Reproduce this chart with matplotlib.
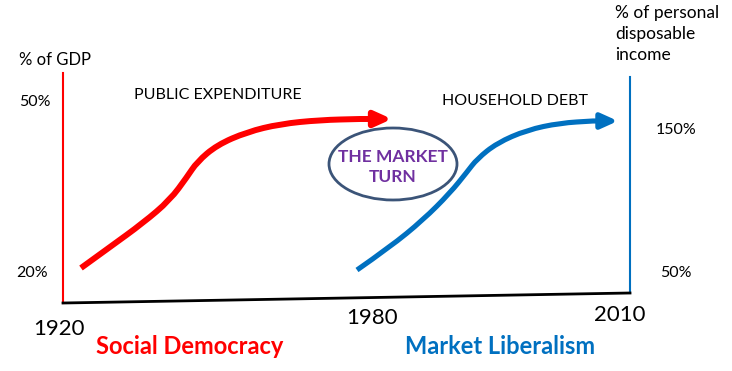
import matplotlib; matplotlib.use("Agg")
import matplotlib.pyplot as plt
from matplotlib.patches import Ellipse, FancyArrowPatch
from matplotlib.path import Path

# diagram coordinates (pixel-like, y grows downwards)
red_x = [81, 110, 143, 170, 187, 197, 217, 247, 280, 320, 360, 392]
red_y = [268, 247, 223, 200, 177, 162, 145, 132, 124, 120, 119, 119]
blue_x = [357, 390, 423, 450, 467, 477, 497, 527, 560, 593, 618]
blue_y = [270, 247, 220, 193, 172, 159, 143, 130, 123, 121, 121]

left_ticks = ["50%", "20%"]
right_ticks = ["150%", "50%"]
years = ["1920", "1980", "2010"]
RED = "#ff0000"; BLUE = "#0070c0"; PURPLE = "#7030a0"

plt.rcParams['font.family'] = ['Lato', 'DejaVu Sans']
fig = plt.figure(figsize=(7.32, 3.71), dpi=100)
ax = fig.add_axes([0, 0, 1, 1])
ax.set_xlim(0, 732); ax.set_ylim(371, 0); ax.axis("off")

# axes lines
ax.plot([63, 63], [73, 303], color=RED, lw=1.5)
ax.plot([630, 630], [77, 293], color=BLUE, lw=1.5)
ax.plot([63, 630], [303, 293], color="black", lw=2)

def curve(xs, ys, col, lw):
    # smooth through the points: quadratic beziers with midpoints as knots
    pts = list(zip(xs, ys))
    verts = [pts[0]]; codes = [Path.MOVETO]
    for i in range(1, len(pts) - 2):
        mid = ((pts[i][0] + pts[i+1][0]) / 2, (pts[i][1] + pts[i+1][1]) / 2)
        verts += [pts[i], mid]; codes += [Path.CURVE3, Path.CURVE3]
    verts += [pts[-2], pts[-1]]; codes += [Path.LINETO, Path.LINETO]
    ax.add_patch(FancyArrowPatch(path=Path(verts, codes), arrowstyle="-|>,head_length=10,head_width=4.5",
                                 color=col, lw=lw, mutation_scale=1, joinstyle="round", capstyle="butt"))
curve(red_x, red_y, RED, 4.3)
curve(blue_x, blue_y, BLUE, 3.7)

ax.add_patch(Ellipse((393, 164), 128, 72, fill=False, edgecolor="#3b5478", lw=2))
ax.text(393, 167, "THE MARKET\nTURN", color=PURPLE, fontsize=12.5, fontweight="bold",
        ha="center", va="center", linespacing=1.25)

ax.text(55, 60, "% of GDP", fontsize=12, ha="center", va="center")
ax.text(35, 102, left_ticks[0], fontsize=11.5, ha="center", va="center")
ax.text(32, 273, left_ticks[1], fontsize=11.5, ha="center", va="center")
ax.text(218, 95, "PUBLIC EXPENDITURE", fontsize=11.5, ha="center", va="center")
ax.text(515, 101, "HOUSEHOLD DEBT", fontsize=11.5, ha="center", va="center")
ax.text(615, 5, "% of personal\ndisposable\nincome", fontsize=12.5, ha="left", va="top", linespacing=1.4)
ax.text(676, 130, right_ticks[0], fontsize=11.5, ha="center", va="center")
ax.text(676, 273, right_ticks[1], fontsize=11.5, ha="center", va="center")

ax.text(59, 329, years[0], fontsize=16, ha="center", va="center")
ax.text(372, 318, years[1], fontsize=16, ha="center", va="center")
ax.text(620, 315, years[2], fontsize=16, ha="center", va="center")
ax.text(190, 347, "Social Democracy", color=RED, fontsize=17, fontweight="bold", ha="center", va="center")
ax.text(500, 347, "Market Liberalism", color=BLUE, fontsize=17, fontweight="bold", ha="center", va="center")

fig.savefig("out.png", dpi=100)
